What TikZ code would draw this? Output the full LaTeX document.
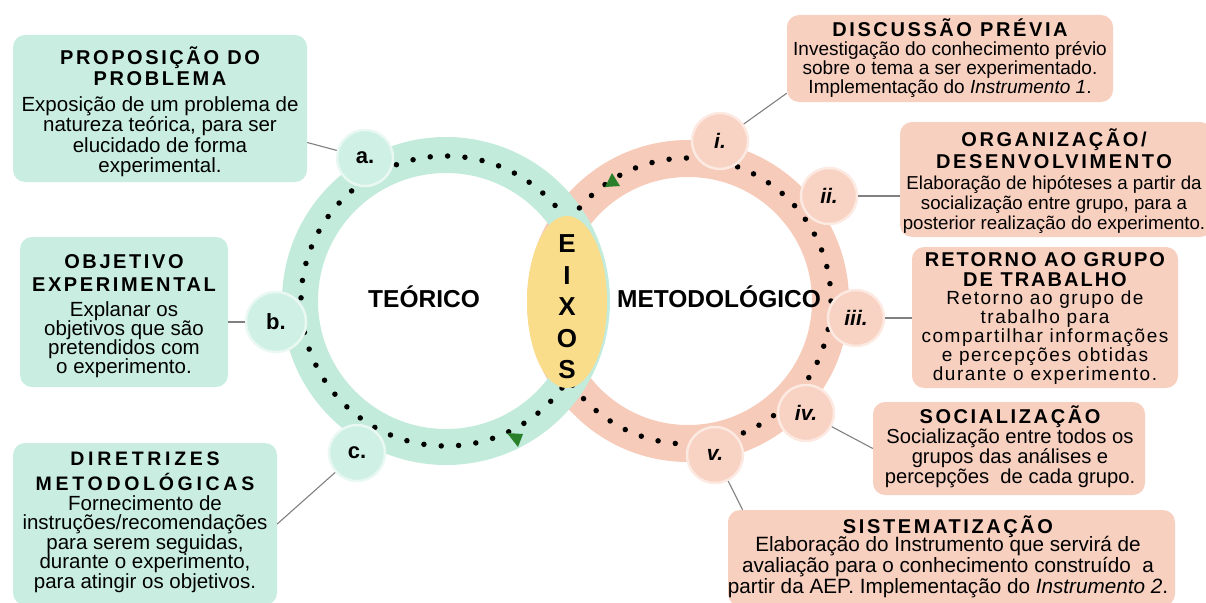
\documentclass[tikz,border=0pt]{standalone}
\usepackage{fontspec}
\setmainfont{Liberation Sans}
\newfontfamily\trk{Liberation Sans}[LetterSpace=13]
\newfontfamily\trkb{Liberation Sans}[LetterSpace=10]
\newfontfamily\trkc{Liberation Sans}[LetterSpace=19]
\newfontfamily\bodysp{Liberation Sans}[LetterSpace=8]
\usetikzlibrary{shapes.geometric}
\lineskiplimit=-1000pt
\lineskip=0pt
\definecolor{tealring}{HTML}{C2EBDC}
\definecolor{tealbox}{HTML}{C9EEE1}
\definecolor{tealcirc}{HTML}{CFF0E5}
\definecolor{tealedge}{HTML}{E9F8F2}
\definecolor{salring}{HTML}{F6CBB9}
\definecolor{salbox}{HTML}{F7D0C0}
\definecolor{salcirc}{HTML}{F8D3C4}
\definecolor{saledge}{HTML}{FCEAE2}
\definecolor{eixosyel}{HTML}{F9DD8A}
\definecolor{arrowgreen}{HTML}{2A7F2A}
\definecolor{connc}{HTML}{808080}
\newcommand\TT[1]{{\fontsize{20}{20}\trk\bfseries #1}}
\newcommand\TTb[1]{{\fontsize{20}{20}\trkb\bfseries #1}}
\newcommand\TTc[1]{{\fontsize{19.5}{20}\trkc\bfseries #1}}
\begin{document}
\begin{tikzpicture}[x=1pt,y=-1pt,
  tbox/.style={rectangle, rounded corners=12pt, fill=tealbox, inner sep=0pt},
  sbox/.style={rectangle, rounded corners=12pt, fill=salbox, inner sep=0pt},
  btext/.style={align=center, inner sep=0pt, text=black},
  tcirc/.style={circle, fill=tealcirc, draw=tealedge, line width=2.5pt, minimum size=56pt, inner sep=0pt, font=\fontsize{22}{22}\selectfont\bfseries},
  scirc/.style={circle, fill=salcirc, draw=saledge, line width=2.5pt, minimum size=56pt, inner sep=0pt, font=\fontsize{21}{21}\selectfont\bfseries\itshape},
  conn/.style={draw=connc, line width=1.1pt},
  dots/.style={line width=5.5pt, line cap=round, dash pattern=on 0pt off 17.4pt},
  axis/.style={font=\fontsize{24.5}{24.5}\selectfont\bfseries, inner sep=0pt}
]
\useasboundingbox (0,0) rectangle (1206,602);
\clip (0,0) rectangle (1206,602);

% ---------- boxes ----------
\node[tbox, minimum width=294pt, minimum height=147pt] (box1) at (160,108.5) {};
\node[tbox, minimum width=208pt, minimum height=150pt] (box2) at (124,312) {};
\node[tbox, minimum width=264pt, minimum height=162pt] (box3) at (145,524) {};
\node[sbox, minimum width=326pt, minimum height=87pt] (box4) at (950,58.5) {};
\node[sbox, minimum width=312pt, minimum height=115pt] (box5) at (1056,179.5) {};
\node[sbox, minimum width=266pt, minimum height=141pt] (box6) at (1045,317.5) {};
\node[sbox, minimum width=272pt, minimum height=93pt] (box7) at (1009,448.5) {};
\node[sbox, minimum width=447pt, minimum height=96pt] (box8) at (951.5,558) {};

% ---------- rings ----------
\coordinate (L) at (446,301);
\coordinate (R) at (688,301);
\draw[salring, line width=37pt] (R) circle (142.5pt);
\draw[tealring, line width=36pt] (L) circle (146pt);
\draw[dots] (L) circle (145pt);
\draw[dots] (R) circle (143pt);

% ---------- EIXOS ----------
\node[ellipse, fill=eixosyel, minimum width=80pt, minimum height=172pt, inner sep=0pt] (eixos) at (567,302) {};
\node[btext, font=\fontsize{26}{31.5}\selectfont\bfseries] (eixost) at (567,307) {E\\I\\X\\O\\S};

% ---------- step circles ----------
\node[tcirc] (ca) at (365,158) {a.};
\node[tcirc, minimum size=60pt] (cb) at (276,322) {b.};
\node[tcirc] (cc) at (357,453) {c.};
\node[scirc] (ci) at (720,141) {i.};
\node[scirc] (cii) at (829,196) {ii.};
\node[scirc] (ciii) at (856,318) {iii.};
\node[scirc] (civ) at (806,413) {iv.};
\node[scirc] (cv) at (715,455) {v.};

% ---------- connectors ----------
\draw[conn] (box1.-13) -- (ca);
\draw[conn] (box2.east |- cb.west) -- (cb.west);
\draw[conn] (box3.east) -- (cc);
\draw[conn] (ci) -- (box4.192);
\draw[conn] (cii) -- (cii -| box5.west);
\draw[conn] (ciii) -- (ciii -| box6.west);
\draw[conn] (civ) -- (box7.west);
\draw[conn] (cv) -- (box8.167);

% ---------- green arrowheads ----------
\fill[arrowgreen] (507,433) -- (523,434) -- (518,447) -- cycle;
\fill[arrowgreen] (605,187) -- (612,173) -- (620,186) -- cycle;

% ---------- axis labels ----------
\node[axis] (teo) at (424,297) {TEÓRICO};
\node[axis] (met) at (719,297) {METODOLÓGICO};

% ---------- box texts ----------
\node[btext, font=\fontsize{20.5}{20.5}\selectfont] (t1) at (160,112)
 {\TT{PROPOSIÇÃO DO}\\[0.5pt]\TT{PROBLEMA}\\[5pt]Exposição de um problema de\\natureza teórica, para ser\\elucidado de forma\\experimental.};
\node[btext, font=\fontsize{20.5}{19}\selectfont] (t2) at (124,316)
 {\TT{OBJETIVO}\\[4pt]\TT{EXPERIMENTAL}\\[6.3pt]Explanar os\\objetivos que são\\pretendidos com\\o experimento.};
\node[btext, font=\fontsize{20.5}{19.5}\selectfont] (t3) at (145,522.5)
 {\TTc{DIRETRIZES}\\[5.5pt]\TTc{METODOLÓGICAS}\\[0pt]Fornecimento de\\instruções/recomendações\\para serem seguidas,\\durante o experimento,\\para atingir os objetivos.};
\node[btext, font=\fontsize{19}{19}\selectfont] (t4) at (950,58)
 {\TT{DISCUSSÃO PRÉVIA}\\[-0.7pt]Investigação do conhecimento prévio\\sobre o tema a ser experimentado.\\Implementação do \textit{Instrumento 1}.};
\node[btext, font=\fontsize{18.7}{20}\selectfont] (t5) at (1054,181)
 {\TT{ORGANIZAÇÃO/}\\[2pt]\TT{DESENVOLVIMENTO}\\[0.3pt]Elaboração de hipóteses a partir da\\socialização entre grupo, para a\\posterior realização do experimento.};
\node[btext, font=\fontsize{19}{19}\selectfont\bodysp] (t6) at (1045,318.5)
 {\TTb{RETORNO AO GRUPO}\\[1pt]\TTb{DE TRABALHO}\\[-1.5pt]Retorno ao grupo de\\trabalho para\\compartilhar informações\\e percepções obtidas\\durante o experimento.};
\node[btext, font=\fontsize{20.2}{20}\selectfont] (t7) at (1010,447)
 {\TT{SOCIALIZAÇÃO}\\[0.3pt]Socialização entre todos os\\grupos das análises e\\percepções\ \ de cada grupo.};
\node[btext, font=\fontsize{20.7}{21}\selectfont] (t8) at (948,557)
 {\TT{SISTEMATIZAÇÃO}\\[-2.7pt]Elaboração do Instrumento que servirá de\\avaliação para o conhecimento construído\ \ a\\partir da AEP. Implementação do \textit{Instrumento 2}.};
\end{tikzpicture}
\end{document}
